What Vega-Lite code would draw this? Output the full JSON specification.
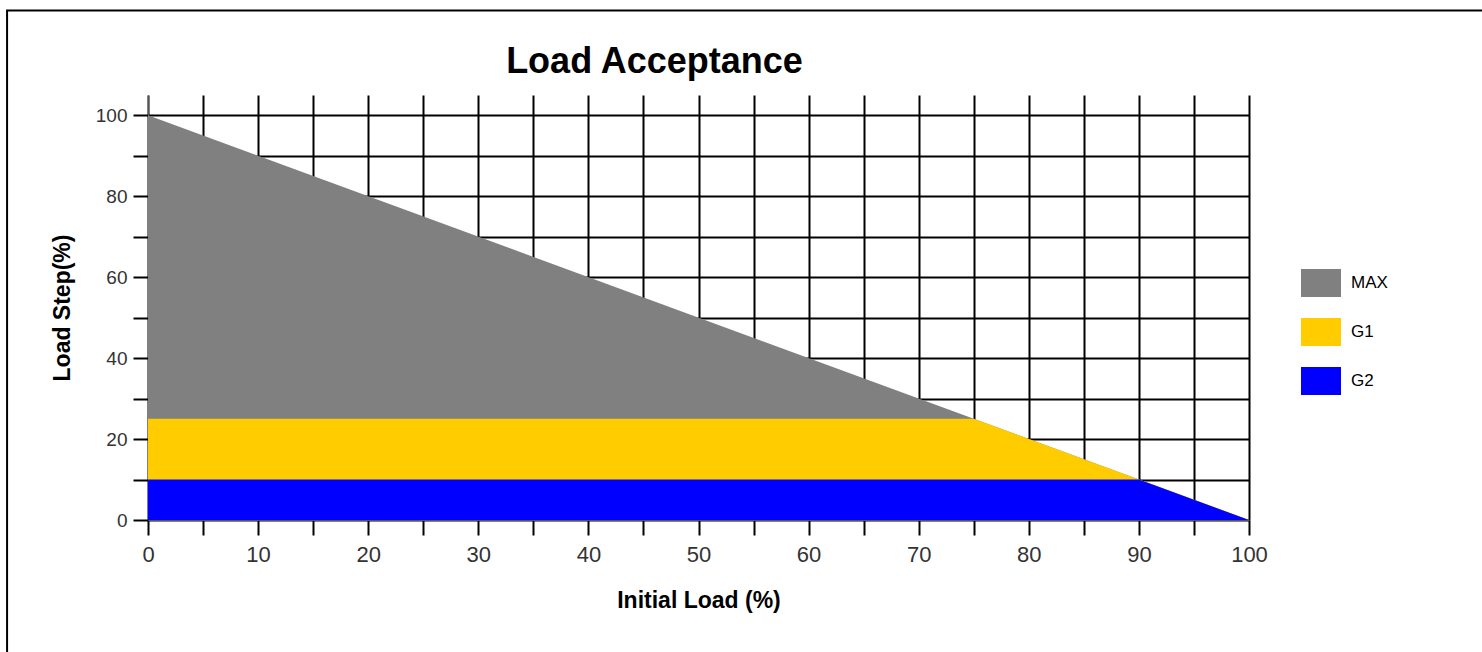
{
  "$schema": "https://vega.github.io/schema/vega-lite/v6.json",
  "autosize": {"type": "none"},
  "padding": {"left": 148, "top": 95, "right": 233, "bottom": 132},
  "width": 1101,
  "height": 425,
  "background": "white",
  "title": {
    "text": "Load Acceptance",
    "fontSize": 36,
    "fontWeight": "bold",
    "font": "Liberation Sans",
    "color": "black",
    "anchor": "middle",
    "frame": "group",
    "baseline": "alphabetic",
    "dx": -44,
    "offset": -99.5
  },
  "datasets": {
    "areas": [
      {"series": "MAX", "x": 0, "y": 100},
      {"series": "MAX", "x": 100, "y": 0},
      {"series": "G1", "x": 0, "y": 25},
      {"series": "G1", "x": 75, "y": 25},
      {"series": "G1", "x": 100, "y": 0},
      {"series": "G2", "x": 0, "y": 10},
      {"series": "G2", "x": 90, "y": 10},
      {"series": "G2", "x": 100, "y": 0}
    ],
    "frame": [{"x1": -12.8, "x2": 130, "y1": -40, "y2": 125.9}]
  },
  "config": {
    "view": {"stroke": null},
    "font": "Liberation Sans"
  },
  "layer": [
    {
      "data": {"name": "areas"},
      "transform": [{"filter": "datum.series == 'MAX'"}],
      "mark": {"type": "area", "clip": true},
      "encoding": {
        "x": {
          "field": "x", "type": "quantitative",
          "scale": {"domain": [0, 100], "nice": false},
          "axis": {
            "values": [0,5,10,15,20,25,30,35,40,45,50,55,60,65,70,75,80,85,90,95,100],
            "labelExpr": "datum.value % 10 == 0 ? datum.label : ''",
            "labelFlush": false,
            "title": "Initial Load (%)",
            "titleFontSize": 23, "titleFontWeight": "bold", "titleColor": "black",
            "titlePadding": 24,
            "labelFontSize": 22, "labelColor": "#333333", "labelPadding": 9,
            "tickSize": 15, "tickColor": "black", "tickWidth": 2,
            "grid": true, "gridColor": "black", "gridWidth": 2, "gridOpacity": 1,
            "domainColor": "#555555", "domainWidth": 1
          }
        },
        "y": {
          "field": "y", "type": "quantitative",
          "stack": null,
          "scale": {"domain": [0, 105], "nice": false},
          "axis": {
            "values": [0,10,20,30,40,50,60,70,80,90,100],
            "labelExpr": "datum.value % 20 == 0 ? datum.label : ''",
            "title": "Load Step(%)",
            "titleFontSize": 23, "titleFontWeight": "bold", "titleColor": "black",
            "titlePadding": 21,
            "labelFontSize": 19, "labelColor": "#333333", "labelPadding": 6,
            "tickSize": 15, "tickColor": "black", "tickWidth": 2,
            "grid": true, "gridColor": "black", "gridWidth": 2, "gridOpacity": 1,
            "domainColor": "#555555", "domainWidth": 1
          }
        },
        "color": {
          "field": "series", "type": "nominal",
          "scale": {"domain": ["MAX", "G1", "G2"], "range": ["#808080", "#FFCC00", "#0000FF"]},
          "legend": {
            "title": null,
            "orient": "none",
            "legendX": 1153,
            "legendY": 168,
            "symbolType": "M-1,-0.7H1V0.7H-1Z",
            "symbolSize": 1600,
            "symbolStrokeWidth": 0,
            "symbolOpacity": 1,
            "labelFontSize": 17,
            "labelColor": "black",
            "labelOffset": 10,
            "rowPadding": 15
          }
        }
      }
    },
    {
      "data": {"name": "areas"},
      "transform": [{"filter": "datum.series == 'G1'"}],
      "mark": {"type": "area", "clip": true},
      "encoding": {
        "x": {"field": "x", "type": "quantitative"},
        "y": {"field": "y", "type": "quantitative", "stack": null},
        "color": {"field": "series", "type": "nominal"}
      }
    },
    {
      "data": {"name": "areas"},
      "transform": [{"filter": "datum.series == 'G2'"}],
      "mark": {"type": "area", "clip": true},
      "encoding": {
        "x": {"field": "x", "type": "quantitative"},
        "y": {"field": "y", "type": "quantitative", "stack": null},
        "color": {"field": "series", "type": "nominal"}
      }
    },
    {
      "data": {"name": "frame"},
      "mark": {"type": "rect", "fill": null, "stroke": "black", "strokeWidth": 2, "clip": false},
      "encoding": {
        "x": {"field": "x1", "type": "quantitative"},
        "x2": {"field": "x2"},
        "y": {"field": "y1", "type": "quantitative"},
        "y2": {"field": "y2"}
      }
    }
  ]
}
